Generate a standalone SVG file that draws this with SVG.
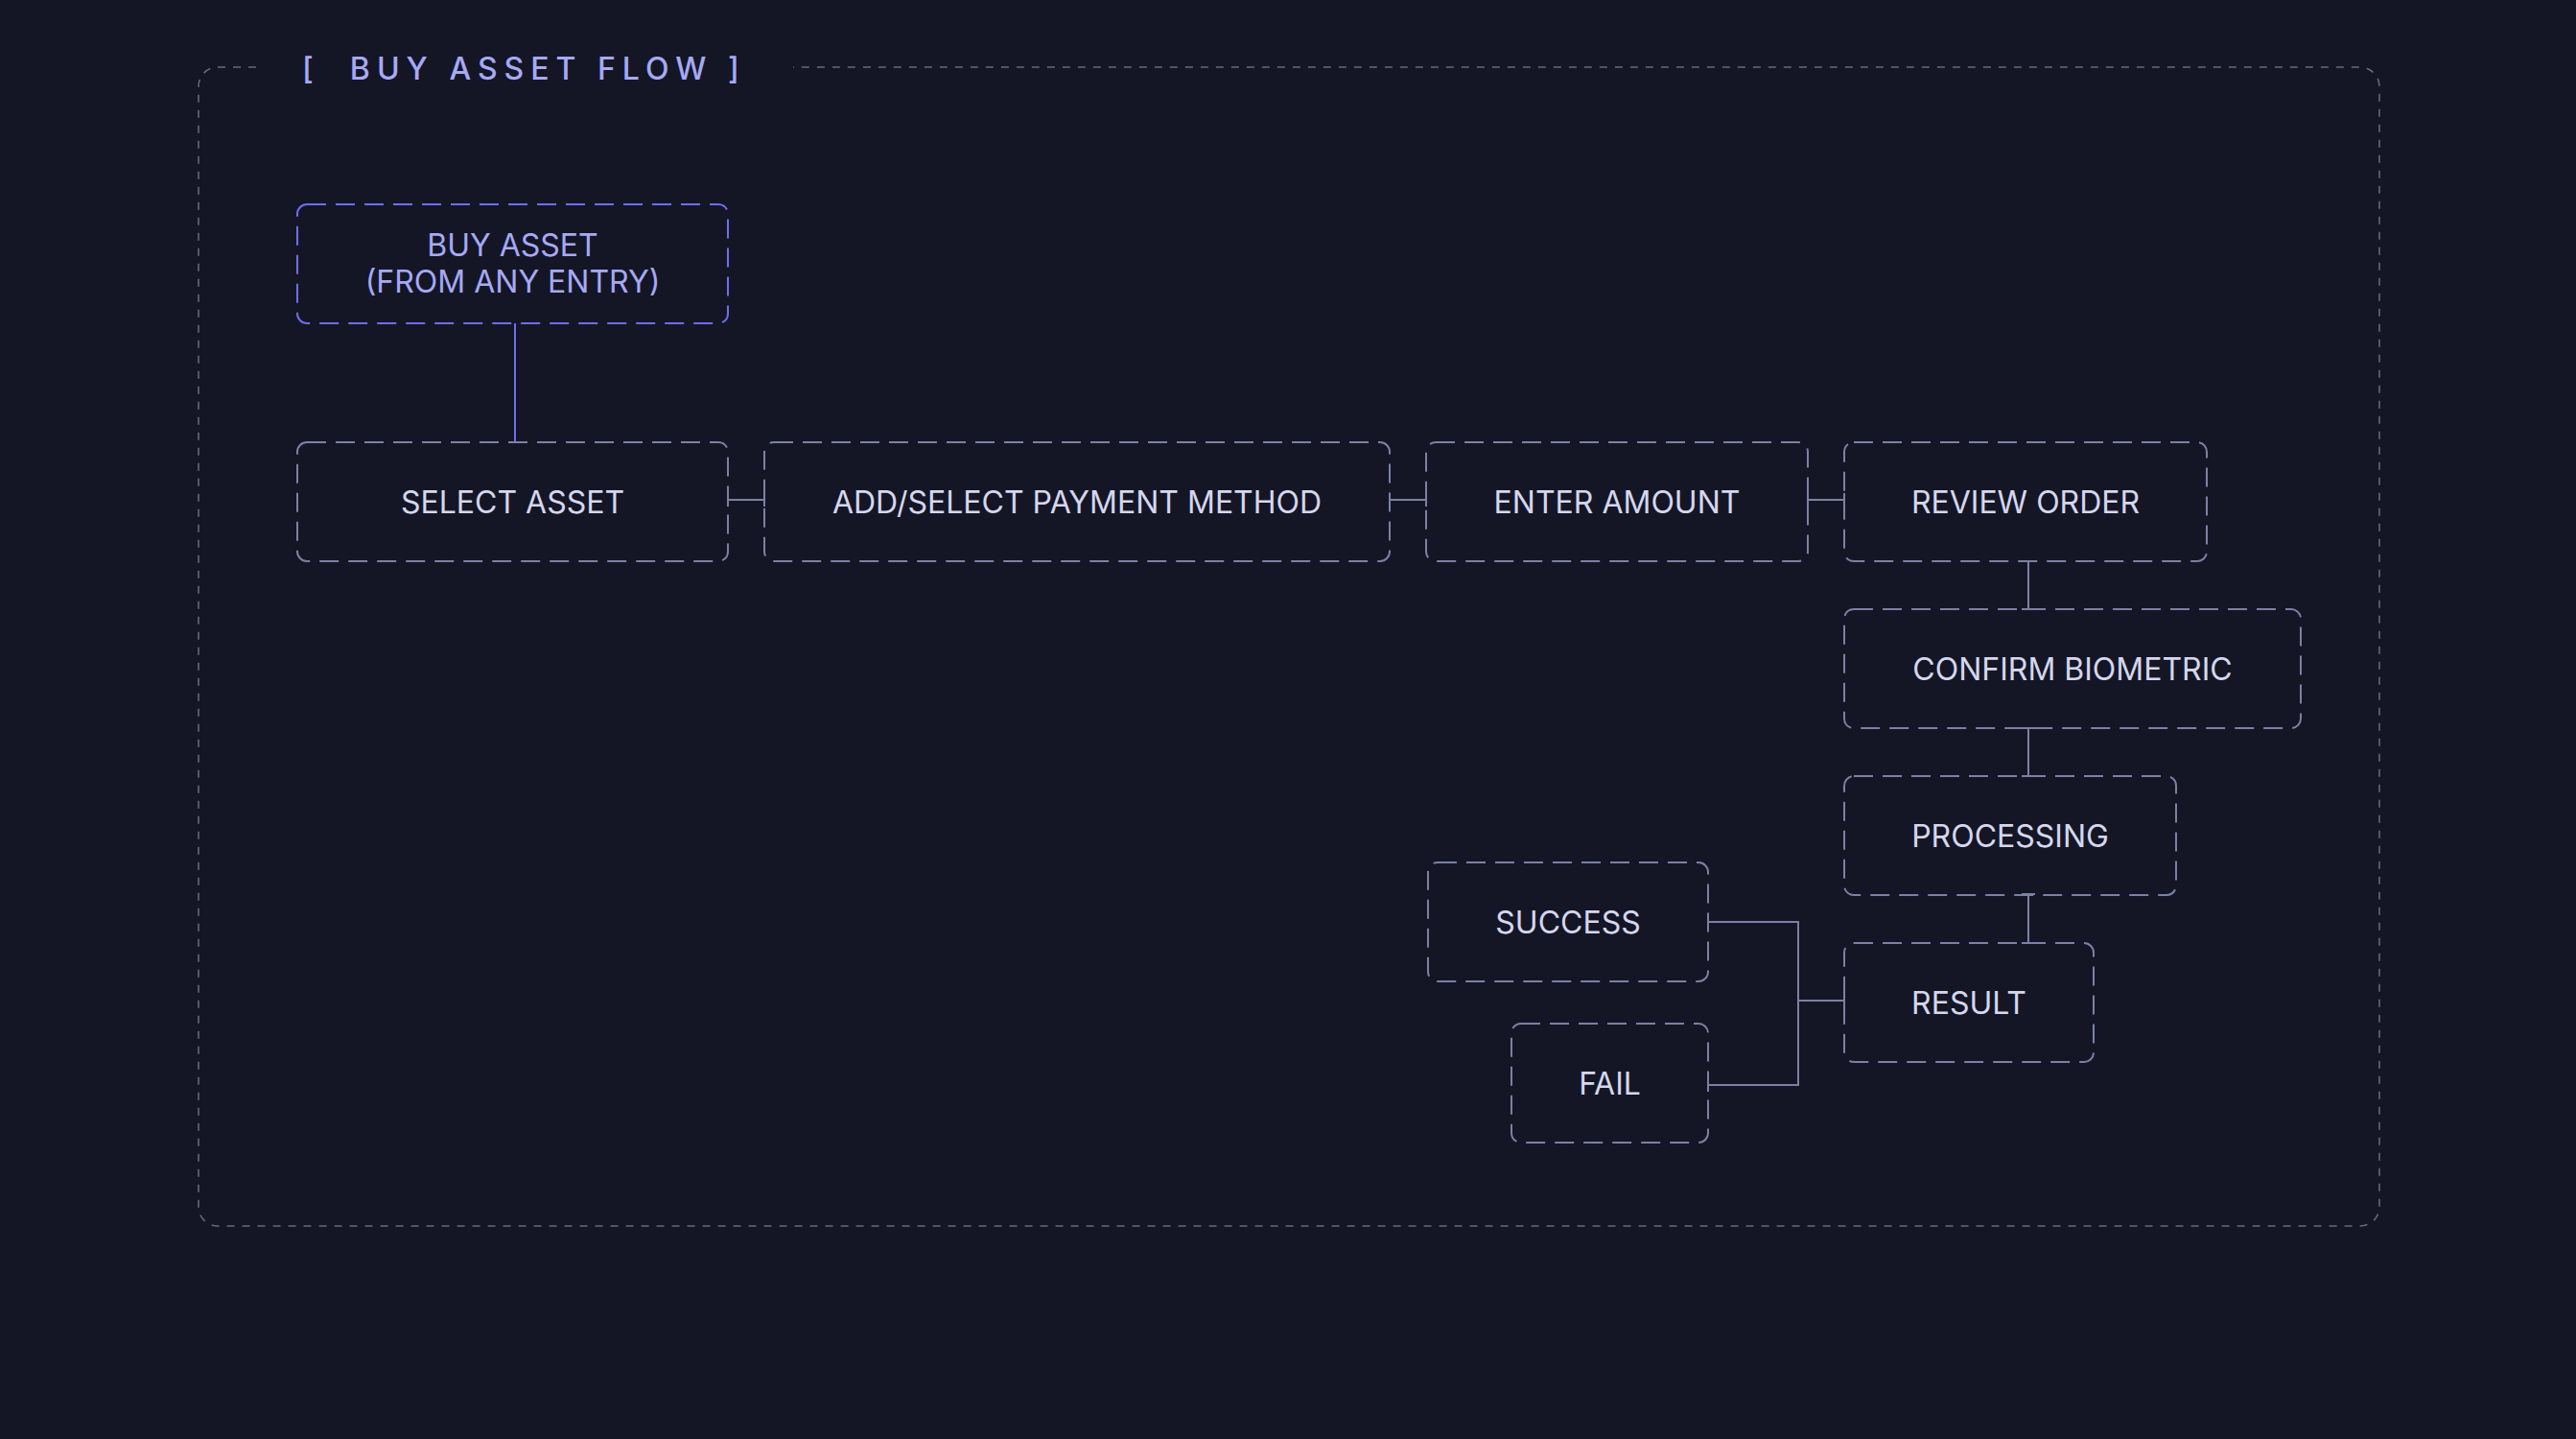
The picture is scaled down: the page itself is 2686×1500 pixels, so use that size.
<svg xmlns="http://www.w3.org/2000/svg" width="2686" height="1500" viewBox="0 0 2686 1500">
<style>
.frame{fill:none;stroke:#65687d;stroke-width:1.6;stroke-dasharray:8 8}
.node rect{fill:none;stroke:#7d80a3;stroke-width:2;stroke-dasharray:20 10}
.node text{font-family:Inter,"Noto Sans","Liberation Sans",sans-serif;font-size:32px;fill:#d5d7ee;text-anchor:middle}
.node.accent rect{stroke:#6c6ff0}
.node.accent text{fill:#a6a9f5}
.title{font-family:Inter,"Noto Sans","Liberation Sans",sans-serif;font-size:32px;font-weight:500;letter-spacing:7px;fill:#a6a9f5;white-space:pre}
.edge{fill:none;stroke:#7d80a3;stroke-width:2}
.edge.tk{marker-start:url(#tick);marker-end:url(#tick)}
.edge.accent{stroke:#6c6ff0}
</style>
<defs>
<marker id="tick" markerUnits="userSpaceOnUse" markerWidth="4" markerHeight="18" viewBox="-2 -9 4 18" refX="0" refY="0" orient="auto">
<path d="M0 -7 V7" stroke="#7d80a3" stroke-width="2"/>
</marker>
</defs>
<rect width="2686" height="1500" fill="#141625"/>
<g id="frame">
<path class="frame" d="M267 70 H227 A20 20 0 0 0 207 90 V1258 A20 20 0 0 0 227 1278 H2461 A20 20 0 0 0 2481 1258 V90 A20 20 0 0 0 2461 70 H827"/>
<text class="title" x="315" y="82.5" xml:space="preserve">[  BUY ASSET FLOW ]</text>
</g>
<g id="connectors">
<path class="edge accent" d="M537 337 V461"/>
<path class="edge tk" d="M759 521 H797"/>
<path class="edge tk" d="M1449 521 H1487"/>
<path class="edge tk" d="M1885 521 H1923"/>
<path class="edge tk" d="M2115 585 V635"/>
<path class="edge tk" d="M2115 759 V809"/>
<path class="edge tk" d="M2115 932 V983"/>
<path class="edge tk" d="M1923 1043 H1875 V961 H1781"/>
<path class="edge tk" d="M1923 1043 H1875 V1131 H1781"/>
</g>
<g id="buy-asset" class="node accent">
<rect x="310" y="213" width="449" height="124" rx="10"/>
<text x="534.5" y="266.5">BUY ASSET</text>
<text x="534.5" y="305">(FROM ANY ENTRY)</text>
</g>
<g id="select-asset" class="node">
<rect x="310" y="461" width="449" height="124" rx="10"/>
<text x="534.5" y="534.5">SELECT ASSET</text>
</g>
<g id="payment-method" class="node">
<rect x="797" y="461" width="652" height="124" rx="10"/>
<text x="1123" y="534.5">ADD/SELECT PAYMENT METHOD</text>
</g>
<g id="enter-amount" class="node">
<rect x="1487" y="461" width="398" height="124" rx="10"/>
<text x="1686" y="534.5">ENTER AMOUNT</text>
</g>
<g id="review-order" class="node">
<rect x="1923" y="461" width="378" height="124" rx="10"/>
<text x="2112" y="534.5">REVIEW ORDER</text>
</g>
<g id="confirm-biometric" class="node">
<rect x="1923" y="635" width="476" height="124" rx="10"/>
<text x="2161" y="708.5">CONFIRM BIOMETRIC</text>
</g>
<g id="processing" class="node">
<rect x="1923" y="809" width="346" height="124" rx="10"/>
<text x="2096" y="882.5">PROCESSING</text>
</g>
<g id="result" class="node">
<rect x="1923" y="983" width="260" height="124" rx="10"/>
<text x="2053" y="1056.5">RESULT</text>
</g>
<g id="success" class="node">
<rect x="1489" y="899" width="292" height="124" rx="10"/>
<text x="1635" y="972.5">SUCCESS</text>
</g>
<g id="fail" class="node">
<rect x="1576" y="1067" width="205" height="124" rx="10"/>
<text x="1678.5" y="1140.5">FAIL</text>
</g>
</svg>
